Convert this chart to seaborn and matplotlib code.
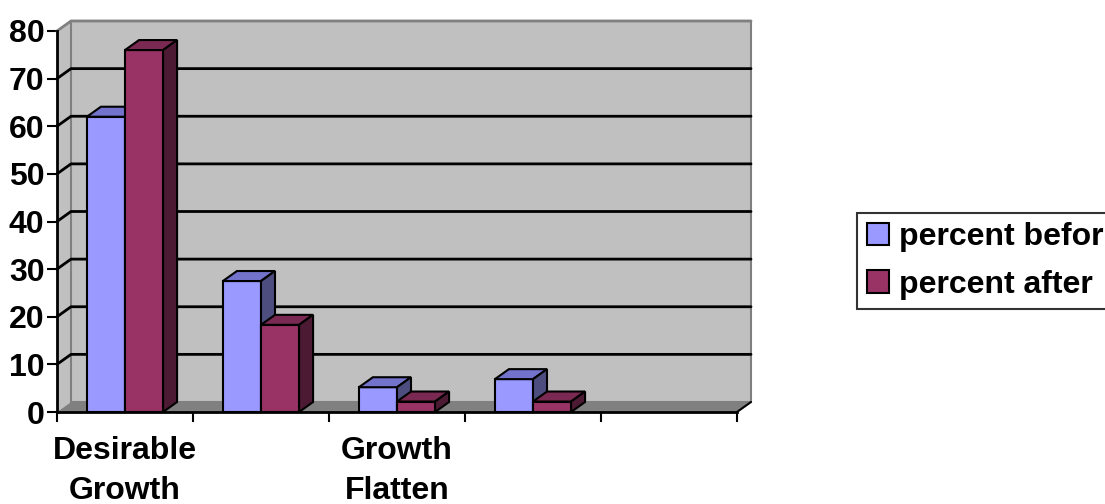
import numpy as np
import pandas as pd
import matplotlib as mpl
import matplotlib.pyplot as plt
from matplotlib.patches import Polygon, Rectangle
import seaborn as sns

sns.set_style("white")
mpl.rcParams["font.family"] = ["Liberation Sans", "DejaVu Sans"]
mpl.rcParams["font.weight"] = "bold"
mpl.rcParams["text.color"] = "black"
mpl.rcParams["xtick.color"] = "black"
mpl.rcParams["ytick.color"] = "black"
mpl.rcParams["xtick.labelcolor"] = "black"
mpl.rcParams["ytick.labelcolor"] = "black"

# data
categories = ["Desirable Growth", "group 2", "Growth Flatten", "group 4"]
tick_labels = ["Desirable\nGrowth", "", "Growth\nFlatten", ""]
# legend labels as they show in the chart (first one is cut short there)
series = ["percent befor", "percent after"]
before = [62, 27.5, 5.2, 6.9]
after = [76, 18.3, 2.2, 2.2]
yticks = [0, 10, 20, 30, 40, 50, 60, 70, 80]

front_colors = {"percent befor": "#9999FF", "percent after": "#993366"}
top_colors = ["#7373CC", "#7A2952"]
side_colors = ["#4D4D80", "#4D1A33"]

df = pd.DataFrame({
    "category": categories * 2,
    "series": [series[0]] * len(before) + [series[1]] * len(after),
    "percent": before + after,
})

FS = 23

fig = plt.figure(figsize=(11.05, 5.04), dpi=100)
ax = fig.add_axes([57 / 1105, 92 / 504, 680 / 1105, 381 / 504])
ax.set_facecolor("none")

sns.barplot(data=df, x="category", y="percent", hue="series", order=categories,
            hue_order=series, palette=front_colors, width=0.56, saturation=1,
            errorbar=None, edgecolor="black", linewidth=1.5, ax=ax)

ax.set_xlim(-0.5, 4.5)
ax.set_ylim(0, 80)

# depth offset of the fake 3d, 14px right and 10px up
inv = ax.transData.inverted()
o = ax.transData.transform((0, 0))
p = inv.transform(o + np.array([14, 10]))
dx, dy = p[0], p[1]

x0, x1 = -0.5, 4.5
ytop = yticks[-1]
kw = dict(clip_on=False)

# walls and floor
ax.add_patch(Polygon([(x0, 0), (x0, ytop), (x0 + dx, ytop + dy), (x0 + dx, dy)],
                     facecolor="#C0C0C0", edgecolor="none", zorder=0.5, **kw))
ax.add_patch(Rectangle((x0 + dx, dy), x1 - x0, ytop, facecolor="#C0C0C0",
                       edgecolor="#808080", linewidth=1.5, zorder=0.5, **kw))
ax.add_patch(Polygon([(x0, 0), (x1, 0), (x1 + dx, dy), (x0 + dx, dy)],
                     facecolor="#808080", edgecolor="none", zorder=0.6, **kw))
ax.plot([x1, x1 + dx], [0, dy], color="black", lw=1.5, zorder=0.7, **kw)

for v in yticks[1:]:
    c = "#808080" if v == ytop else "black"
    ax.plot([x0, x0 + dx, x1 + dx], [v, v + dy, v + dy], color=c, lw=2, zorder=0.7, **kw)

# top and side faces of the bars
for k, cont in enumerate(ax.containers):
    for bar in cont:
        h = bar.get_height()
        if np.isnan(h):
            continue
        bx, w = bar.get_x(), bar.get_width()
        z = 3 + bx
        bar.set_zorder(z)
        ax.add_patch(Polygon([(bx, h), (bx + w, h), (bx + w + dx, h + dy), (bx + dx, h + dy)],
                             facecolor=top_colors[k], edgecolor="black", linewidth=1.5,
                             zorder=z, **kw))
        ax.add_patch(Polygon([(bx + w, 0), (bx + w + dx, dy), (bx + w + dx, h + dy), (bx + w, h)],
                             facecolor=side_colors[k], edgecolor="black", linewidth=1.5,
                             zorder=z, **kw))

for s in ["top", "right"]:
    ax.spines[s].set_visible(False)
for s in ["left", "bottom"]:
    ax.spines[s].set_color("black")
    ax.spines[s].set_linewidth(2)
    ax.spines[s].set_zorder(10)

ax.set_yticks(yticks)
ax.tick_params(axis="y", labelsize=FS, length=7, width=1.5, pad=2, left=True,
               color="black", labelcolor="black")
ax.set_xticks(range(len(categories)))
ax.set_xticklabels(tick_labels, fontsize=FS, fontweight="bold", linespacing=1.45,
                   color="black")
ax.tick_params(axis="x", which="major", length=0, pad=17)
ax.set_xticks(np.arange(-0.5, 5, 1), minor=True)
ax.tick_params(axis="x", which="minor", length=7, width=1.5, bottom=True, color="black")
ax.set_xlabel("")
ax.set_ylabel("")

sns.move_legend(ax, loc="center left", bbox_to_anchor=(857 / 1105, 0.482),
                bbox_transform=fig.transFigure, title=None, frameon=True,
                fontsize=FS, handlelength=0.7, handleheight=0.7, handletextpad=0.3,
                labelspacing=0.55, borderpad=0.3, fancybox=False, borderaxespad=0)
leg = ax.get_legend()
leg.get_frame().set_edgecolor("black")
leg.get_frame().set_linewidth(1.5)
for t in leg.get_texts():
    t.set_fontweight("bold")
    t.set_color("black")

fig.savefig("out.png", dpi=100)
